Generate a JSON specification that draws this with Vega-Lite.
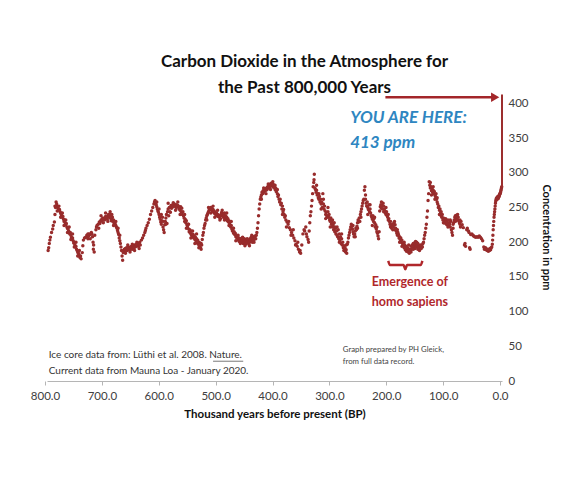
{
  "$schema": "https://vega.github.io/schema/vega-lite/v6.json",
  "width": 455,
  "height": 288,
  "autosize": {"type": "none"},
  "padding": {"left": 47, "top": 93, "right": 67, "bottom": 99},
  "background": "white",
  "config": {"view": {"stroke": null}, "font": "Lato"},
  "title": {
    "text": ["Carbon Dioxide in the Atmosphere for", "the Past 800,000 Years"],
    "font": "Lato", "fontSize": 17, "fontWeight": "bold", "color": "#111111",
    "anchor": "middle", "dx": 30, "offset": -5, "lineHeight": 26
  },
  "encoding": {
    "x": {"field": "kyr", "type": "quantitative",
      "scale": {"domain": [800, 0], "nice": false, "zero": false},
      "axis": {"values": [800, 700, 600, 500, 400, 300, 200, 100, 0], "format": ".1f", "labelFlush": false, "labelOverlap": false,
        "title": "Thousand years before present (BP)", "titleFont": "Lato", "titleFontSize": 11.5, "titleFontWeight": "bold", "titleColor": "#111111", "titlePadding": 7,
        "labelFont": "Lato", "labelFontSize": 11.5, "labelColor": "#404040", "labelPadding": 5,
        "domainColor": "#b5b5b5", "tickColor": "#b5b5b5", "tickSize": 4, "tickOffset": -2, "grid": false}},
    "y": {"field": "ppm", "type": "quantitative",
      "scale": {"domain": [0, 415], "nice": false},
      "axis": {"orient": "right", "values": [0, 50, 100, 150, 200, 250, 300, 350, 400], "labelOverlap": false, "labelFlush": false,
        "title": "Concentration in ppm", "titleFont": "Lato", "titleFontSize": 11, "titleFontWeight": "bold", "titleColor": "#111111", "titlePadding": 12,
        "labelFont": "Lato", "labelFontSize": 11.5, "labelColor": "#404040", "labelPadding": 6,
        "domain": false, "ticks": false, "grid": false}}
  },
  "datasets": {
    "co2": [
{"kyr":798,"ppm":188},{"kyr":797,"ppm":192},{"kyr":796,"ppm":198},{"kyr":795,"ppm":203},{"kyr":794,"ppm":207},{"kyr":792,"ppm":214},{"kyr":790,"ppm":219},{"kyr":789,"ppm":224},{"kyr":787,"ppm":229},{"kyr":786,"ppm":240},{"kyr":785,"ppm":250},{"kyr":784,"ppm":258},{"kyr":783,"ppm":255},{"kyr":782,"ppm":252},{"kyr":781,"ppm":250},{"kyr":780,"ppm":248},{"kyr":779,"ppm":246},{"kyr":778,"ppm":247},{"kyr":777,"ppm":244},{"kyr":776,"ppm":242},{"kyr":775,"ppm":240},{"kyr":774,"ppm":238},{"kyr":773,"ppm":236},{"kyr":772,"ppm":237},{"kyr":771,"ppm":233},{"kyr":770,"ppm":230},{"kyr":769,"ppm":232},{"kyr":768,"ppm":228},{"kyr":767,"ppm":225},{"kyr":766,"ppm":227},{"kyr":765,"ppm":222},{"kyr":764,"ppm":220},{"kyr":763,"ppm":219},{"kyr":762,"ppm":216},{"kyr":761,"ppm":214},{"kyr":760,"ppm":212},{"kyr":759,"ppm":214},{"kyr":758,"ppm":210},{"kyr":757,"ppm":207},{"kyr":756,"ppm":205},{"kyr":755,"ppm":206},{"kyr":754,"ppm":202},{"kyr":753,"ppm":199},{"kyr":752,"ppm":200},{"kyr":751,"ppm":196},{"kyr":750,"ppm":193},{"kyr":749,"ppm":194},{"kyr":748,"ppm":190},{"kyr":747,"ppm":188},{"kyr":746,"ppm":186},{"kyr":745,"ppm":184},{"kyr":744,"ppm":183},{"kyr":743,"ppm":180},{"kyr":742,"ppm":178},{"kyr":741,"ppm":180},{"kyr":740,"ppm":176},{"kyr":738,"ppm":185},{"kyr":737,"ppm":195},{"kyr":736,"ppm":203},{"kyr":734,"ppm":206},{"kyr":732,"ppm":207},{"kyr":730,"ppm":210},{"kyr":729,"ppm":207},{"kyr":728,"ppm":205},{"kyr":727,"ppm":209},{"kyr":726,"ppm":212},{"kyr":724,"ppm":211},{"kyr":722,"ppm":214},{"kyr":721,"ppm":212},{"kyr":720,"ppm":208},{"kyr":719,"ppm":200},{"kyr":718,"ppm":196},{"kyr":718.5,"ppm":190},{"kyr":717,"ppm":186},{"kyr":716,"ppm":210},{"kyr":714,"ppm":218},{"kyr":713,"ppm":222},{"kyr":712,"ppm":224},{"kyr":710,"ppm":226},{"kyr":708,"ppm":229},{"kyr":707,"ppm":227},{"kyr":706,"ppm":230},{"kyr":705,"ppm":232},{"kyr":704,"ppm":231},{"kyr":703,"ppm":233},{"kyr":702,"ppm":235},{"kyr":700,"ppm":234},{"kyr":699,"ppm":232},{"kyr":698,"ppm":235},{"kyr":697,"ppm":237},{"kyr":696,"ppm":234},{"kyr":695,"ppm":236},{"kyr":694,"ppm":233},{"kyr":693,"ppm":238},{"kyr":692,"ppm":240},{"kyr":691,"ppm":236},{"kyr":690,"ppm":238},{"kyr":689,"ppm":240},{"kyr":688,"ppm":234},{"kyr":687,"ppm":231},{"kyr":686,"ppm":233},{"kyr":685,"ppm":236},{"kyr":684,"ppm":230},{"kyr":683,"ppm":232},{"kyr":682,"ppm":227},{"kyr":681,"ppm":229},{"kyr":680,"ppm":226},{"kyr":679,"ppm":224},{"kyr":678,"ppm":222},{"kyr":677,"ppm":220},{"kyr":676,"ppm":217},{"kyr":675,"ppm":214},{"kyr":674,"ppm":211},{"kyr":673,"ppm":206},{"kyr":672,"ppm":202},{"kyr":671,"ppm":198},{"kyr":670,"ppm":193},{"kyr":669,"ppm":188},{"kyr":668,"ppm":180},{"kyr":667,"ppm":174},{"kyr":666,"ppm":185},{"kyr":665,"ppm":188},{"kyr":664,"ppm":190},{"kyr":663,"ppm":186},{"kyr":662,"ppm":191},{"kyr":661,"ppm":189},{"kyr":660,"ppm":192},{"kyr":659,"ppm":188},{"kyr":658,"ppm":190},{"kyr":657,"ppm":193},{"kyr":656,"ppm":191},{"kyr":655,"ppm":189},{"kyr":654,"ppm":192},{"kyr":653,"ppm":190},{"kyr":652,"ppm":194},{"kyr":651,"ppm":192},{"kyr":650,"ppm":190},{"kyr":649,"ppm":193},{"kyr":648,"ppm":195},{"kyr":647,"ppm":192},{"kyr":646,"ppm":196},{"kyr":645,"ppm":193},{"kyr":644,"ppm":195},{"kyr":643,"ppm":197},{"kyr":642,"ppm":194},{"kyr":641,"ppm":196},{"kyr":640,"ppm":198},{"kyr":639,"ppm":195},{"kyr":638,"ppm":197},{"kyr":637,"ppm":200},{"kyr":636,"ppm":196},{"kyr":634,"ppm":203},{"kyr":632,"ppm":206},{"kyr":630,"ppm":210},{"kyr":628,"ppm":214},{"kyr":627,"ppm":217},{"kyr":626,"ppm":220},{"kyr":624,"ppm":224},{"kyr":622,"ppm":228},{"kyr":620,"ppm":233},{"kyr":618,"ppm":240},{"kyr":616,"ppm":245},{"kyr":614,"ppm":250},{"kyr":612,"ppm":255},{"kyr":611,"ppm":258},{"kyr":610,"ppm":260},{"kyr":609,"ppm":257},{"kyr":608,"ppm":254},{"kyr":607,"ppm":251},{"kyr":606,"ppm":248},{"kyr":605,"ppm":245},{"kyr":604,"ppm":243},{"kyr":603,"ppm":240},{"kyr":602,"ppm":236},{"kyr":601,"ppm":233},{"kyr":600,"ppm":229},{"kyr":599,"ppm":226},{"kyr":598,"ppm":231},{"kyr":597,"ppm":236},{"kyr":596,"ppm":222},{"kyr":595,"ppm":218},{"kyr":594,"ppm":214},{"kyr":593,"ppm":225},{"kyr":592,"ppm":230},{"kyr":591,"ppm":235},{"kyr":590,"ppm":240},{"kyr":589,"ppm":227},{"kyr":588,"ppm":244},{"kyr":587,"ppm":248},{"kyr":586,"ppm":238},{"kyr":585,"ppm":250},{"kyr":584,"ppm":244},{"kyr":583,"ppm":250},{"kyr":582,"ppm":253},{"kyr":581,"ppm":249},{"kyr":580,"ppm":252},{"kyr":579,"ppm":254},{"kyr":578,"ppm":251},{"kyr":577,"ppm":253},{"kyr":576,"ppm":255},{"kyr":575,"ppm":252},{"kyr":574,"ppm":253},{"kyr":573,"ppm":250},{"kyr":572,"ppm":254},{"kyr":571,"ppm":251},{"kyr":570,"ppm":253},{"kyr":569,"ppm":252},{"kyr":568,"ppm":248},{"kyr":567,"ppm":250},{"kyr":566,"ppm":246},{"kyr":565,"ppm":251},{"kyr":564,"ppm":244},{"kyr":563,"ppm":249},{"kyr":562,"ppm":240},{"kyr":561,"ppm":244},{"kyr":560,"ppm":238},{"kyr":559,"ppm":235},{"kyr":558,"ppm":240},{"kyr":557,"ppm":233},{"kyr":556,"ppm":228},{"kyr":555,"ppm":231},{"kyr":554,"ppm":225},{"kyr":553,"ppm":222},{"kyr":552,"ppm":226},{"kyr":551,"ppm":219},{"kyr":550,"ppm":215},{"kyr":549,"ppm":218},{"kyr":548,"ppm":213},{"kyr":547,"ppm":216},{"kyr":546,"ppm":210},{"kyr":545,"ppm":212},{"kyr":544,"ppm":208},{"kyr":543,"ppm":211},{"kyr":542,"ppm":206},{"kyr":541,"ppm":209},{"kyr":540,"ppm":204},{"kyr":539,"ppm":207},{"kyr":538,"ppm":202},{"kyr":537,"ppm":205},{"kyr":536,"ppm":199},{"kyr":535,"ppm":203},{"kyr":534,"ppm":197},{"kyr":533,"ppm":200},{"kyr":532,"ppm":194},{"kyr":531,"ppm":199},{"kyr":530,"ppm":192},{"kyr":529,"ppm":190},{"kyr":528,"ppm":196},{"kyr":527,"ppm":204},{"kyr":526,"ppm":210},{"kyr":525,"ppm":214},{"kyr":524,"ppm":220},{"kyr":523,"ppm":224},{"kyr":522,"ppm":227},{"kyr":521,"ppm":232},{"kyr":520,"ppm":235},{"kyr":519,"ppm":238},{"kyr":518,"ppm":240},{"kyr":517,"ppm":242},{"kyr":516,"ppm":244},{"kyr":515,"ppm":246},{"kyr":514,"ppm":247},{"kyr":513,"ppm":248},{"kyr":512,"ppm":250},{"kyr":511,"ppm":247},{"kyr":510,"ppm":249},{"kyr":509,"ppm":245},{"kyr":508,"ppm":247},{"kyr":507,"ppm":243},{"kyr":506,"ppm":245},{"kyr":505,"ppm":241},{"kyr":504,"ppm":243},{"kyr":503,"ppm":240},{"kyr":502,"ppm":242},{"kyr":501,"ppm":238},{"kyr":500,"ppm":240},{"kyr":499,"ppm":237},{"kyr":498,"ppm":239},{"kyr":497,"ppm":236},{"kyr":496,"ppm":238},{"kyr":495,"ppm":234},{"kyr":494,"ppm":240},{"kyr":493,"ppm":243},{"kyr":492,"ppm":238},{"kyr":491,"ppm":241},{"kyr":490,"ppm":236},{"kyr":489,"ppm":239},{"kyr":488,"ppm":242},{"kyr":487,"ppm":235},{"kyr":486,"ppm":238},{"kyr":485,"ppm":233},{"kyr":484,"ppm":236},{"kyr":483,"ppm":231},{"kyr":482,"ppm":234},{"kyr":481,"ppm":229},{"kyr":480,"ppm":231},{"kyr":479,"ppm":226},{"kyr":478,"ppm":229},{"kyr":477,"ppm":222},{"kyr":476,"ppm":224},{"kyr":475,"ppm":219},{"kyr":474,"ppm":216},{"kyr":473,"ppm":220},{"kyr":472,"ppm":213},{"kyr":471,"ppm":215},{"kyr":470,"ppm":211},{"kyr":469,"ppm":213},{"kyr":468,"ppm":208},{"kyr":467,"ppm":210},{"kyr":466,"ppm":206},{"kyr":465,"ppm":208},{"kyr":464,"ppm":203},{"kyr":463,"ppm":206},{"kyr":462,"ppm":201},{"kyr":461,"ppm":204},{"kyr":460,"ppm":205},{"kyr":459,"ppm":200},{"kyr":458,"ppm":203},{"kyr":457,"ppm":206},{"kyr":456,"ppm":201},{"kyr":455,"ppm":198},{"kyr":454,"ppm":203},{"kyr":453,"ppm":205},{"kyr":452,"ppm":200},{"kyr":451,"ppm":197},{"kyr":450,"ppm":202},{"kyr":449,"ppm":204},{"kyr":448,"ppm":199},{"kyr":447,"ppm":201},{"kyr":446,"ppm":203},{"kyr":445,"ppm":197},{"kyr":444,"ppm":200},{"kyr":443,"ppm":205},{"kyr":442,"ppm":202},{"kyr":441,"ppm":207},{"kyr":440,"ppm":204},{"kyr":439,"ppm":200},{"kyr":438,"ppm":205},{"kyr":437,"ppm":208},{"kyr":436,"ppm":204},{"kyr":435,"ppm":207},{"kyr":434,"ppm":209},{"kyr":433,"ppm":205},{"kyr":432,"ppm":210},{"kyr":431,"ppm":214},{"kyr":430,"ppm":220},{"kyr":429,"ppm":228},{"kyr":428,"ppm":238},{"kyr":427,"ppm":248},{"kyr":426,"ppm":255},{"kyr":425,"ppm":262},{"kyr":424,"ppm":265},{"kyr":423,"ppm":268},{"kyr":422,"ppm":272},{"kyr":421,"ppm":270},{"kyr":420,"ppm":274},{"kyr":419,"ppm":272},{"kyr":418,"ppm":276},{"kyr":417,"ppm":274},{"kyr":416,"ppm":277},{"kyr":415,"ppm":275},{"kyr":414,"ppm":278},{"kyr":413,"ppm":276},{"kyr":412,"ppm":280},{"kyr":411,"ppm":278},{"kyr":410,"ppm":282},{"kyr":409,"ppm":279},{"kyr":408,"ppm":283},{"kyr":407,"ppm":281},{"kyr":406,"ppm":285},{"kyr":405,"ppm":282},{"kyr":404,"ppm":284},{"kyr":403,"ppm":280},{"kyr":402,"ppm":283},{"kyr":401,"ppm":279},{"kyr":400,"ppm":281},{"kyr":399,"ppm":276},{"kyr":398,"ppm":278},{"kyr":397,"ppm":273},{"kyr":396,"ppm":275},{"kyr":395,"ppm":270},{"kyr":394,"ppm":266},{"kyr":393,"ppm":268},{"kyr":392,"ppm":262},{"kyr":391,"ppm":258},{"kyr":390,"ppm":262},{"kyr":389,"ppm":254},{"kyr":388,"ppm":256},{"kyr":387,"ppm":248},{"kyr":386,"ppm":252},{"kyr":385,"ppm":244},{"kyr":384,"ppm":247},{"kyr":383,"ppm":240},{"kyr":382,"ppm":236},{"kyr":381,"ppm":238},{"kyr":380,"ppm":232},{"kyr":378,"ppm":229},{"kyr":376,"ppm":226},{"kyr":374,"ppm":221},{"kyr":372,"ppm":218},{"kyr":370,"ppm":214},{"kyr":368,"ppm":210},{"kyr":366,"ppm":206},{"kyr":364,"ppm":202},{"kyr":362,"ppm":197},{"kyr":360,"ppm":194},{"kyr":358,"ppm":190},{"kyr":356,"ppm":186},{"kyr":355,"ppm":188},{"kyr":352,"ppm":196},{"kyr":350,"ppm":212},{"kyr":348,"ppm":218},{"kyr":347,"ppm":216},{"kyr":345,"ppm":222},{"kyr":344,"ppm":212},{"kyr":343,"ppm":208},{"kyr":341,"ppm":204},{"kyr":340,"ppm":200},{"kyr":339,"ppm":216},{"kyr":338,"ppm":228},{"kyr":337,"ppm":238},{"kyr":336,"ppm":244},{"kyr":335,"ppm":252},{"kyr":334,"ppm":260},{"kyr":333,"ppm":270},{"kyr":332,"ppm":280},{"kyr":331,"ppm":286},{"kyr":330,"ppm":298},{"kyr":330.5,"ppm":290},{"kyr":329,"ppm":278},{"kyr":328,"ppm":276},{"kyr":327,"ppm":272},{"kyr":326,"ppm":275},{"kyr":325,"ppm":268},{"kyr":324,"ppm":270},{"kyr":323,"ppm":264},{"kyr":322,"ppm":262},{"kyr":321,"ppm":266},{"kyr":320,"ppm":258},{"kyr":319,"ppm":262},{"kyr":318,"ppm":255},{"kyr":317,"ppm":258},{"kyr":316,"ppm":250},{"kyr":315,"ppm":270},{"kyr":314,"ppm":255},{"kyr":313,"ppm":248},{"kyr":312,"ppm":252},{"kyr":311,"ppm":245},{"kyr":310,"ppm":240},{"kyr":309,"ppm":243},{"kyr":308,"ppm":236},{"kyr":307,"ppm":238},{"kyr":306,"ppm":244},{"kyr":305,"ppm":236},{"kyr":304,"ppm":240},{"kyr":303,"ppm":232},{"kyr":302,"ppm":230},{"kyr":301,"ppm":235},{"kyr":300,"ppm":226},{"kyr":299,"ppm":229},{"kyr":298,"ppm":222},{"kyr":297,"ppm":225},{"kyr":296,"ppm":218},{"kyr":295,"ppm":228},{"kyr":294,"ppm":215},{"kyr":293,"ppm":220},{"kyr":292,"ppm":212},{"kyr":291,"ppm":216},{"kyr":290,"ppm":222},{"kyr":289,"ppm":208},{"kyr":288,"ppm":218},{"kyr":287,"ppm":205},{"kyr":286,"ppm":212},{"kyr":285,"ppm":202},{"kyr":284,"ppm":208},{"kyr":283,"ppm":198},{"kyr":282,"ppm":205},{"kyr":281,"ppm":196},{"kyr":280,"ppm":200},{"kyr":279,"ppm":192},{"kyr":278,"ppm":195},{"kyr":277,"ppm":188},{"kyr":276,"ppm":192},{"kyr":275,"ppm":186},{"kyr":274,"ppm":189},{"kyr":273,"ppm":184},{"kyr":272,"ppm":197},{"kyr":271,"ppm":200},{"kyr":270,"ppm":206},{"kyr":269,"ppm":210},{"kyr":268,"ppm":214},{"kyr":267,"ppm":218},{"kyr":266,"ppm":222},{"kyr":265,"ppm":226},{"kyr":264,"ppm":223},{"kyr":263,"ppm":219},{"kyr":262,"ppm":215},{"kyr":261,"ppm":212},{"kyr":260,"ppm":208},{"kyr":259,"ppm":212},{"kyr":258,"ppm":216},{"kyr":257,"ppm":220},{"kyr":256,"ppm":218},{"kyr":255,"ppm":223},{"kyr":254,"ppm":228},{"kyr":253,"ppm":232},{"kyr":252,"ppm":229},{"kyr":251,"ppm":235},{"kyr":250,"ppm":230},{"kyr":249,"ppm":240},{"kyr":248,"ppm":244},{"kyr":247,"ppm":248},{"kyr":246,"ppm":252},{"kyr":245,"ppm":256},{"kyr":244,"ppm":260},{"kyr":243,"ppm":262},{"kyr":242,"ppm":275},{"kyr":241,"ppm":280},{"kyr":240,"ppm":268},{"kyr":239,"ppm":256},{"kyr":238,"ppm":252},{"kyr":237,"ppm":258},{"kyr":236,"ppm":250},{"kyr":235,"ppm":247},{"kyr":234,"ppm":254},{"kyr":233,"ppm":244},{"kyr":232,"ppm":248},{"kyr":231,"ppm":242},{"kyr":230,"ppm":238},{"kyr":229,"ppm":236},{"kyr":228,"ppm":233},{"kyr":227,"ppm":238},{"kyr":226,"ppm":230},{"kyr":225,"ppm":234},{"kyr":224,"ppm":228},{"kyr":223,"ppm":222},{"kyr":222,"ppm":225},{"kyr":221,"ppm":219},{"kyr":220,"ppm":215},{"kyr":219,"ppm":213},{"kyr":218,"ppm":209},{"kyr":217,"ppm":205},{"kyr":216,"ppm":215},{"kyr":215,"ppm":245},{"kyr":214,"ppm":251},{"kyr":213,"ppm":254},{"kyr":212,"ppm":249},{"kyr":211,"ppm":253},{"kyr":210,"ppm":248},{"kyr":209,"ppm":256},{"kyr":208,"ppm":252},{"kyr":207,"ppm":248},{"kyr":206,"ppm":245},{"kyr":205,"ppm":242},{"kyr":204,"ppm":240},{"kyr":203,"ppm":244},{"kyr":202,"ppm":238},{"kyr":201,"ppm":236},{"kyr":200,"ppm":240},{"kyr":199,"ppm":234},{"kyr":198,"ppm":230},{"kyr":197,"ppm":226},{"kyr":196,"ppm":222},{"kyr":195,"ppm":225},{"kyr":194,"ppm":220},{"kyr":193,"ppm":224},{"kyr":192,"ppm":218},{"kyr":191,"ppm":222},{"kyr":190,"ppm":228},{"kyr":189,"ppm":230},{"kyr":188,"ppm":225},{"kyr":187,"ppm":220},{"kyr":186,"ppm":216},{"kyr":185,"ppm":213},{"kyr":184,"ppm":210},{"kyr":183,"ppm":214},{"kyr":182,"ppm":211},{"kyr":181,"ppm":206},{"kyr":180,"ppm":208},{"kyr":179,"ppm":204},{"kyr":178,"ppm":206},{"kyr":177,"ppm":200},{"kyr":176,"ppm":203},{"kyr":175,"ppm":198},{"kyr":174,"ppm":195},{"kyr":173,"ppm":199},{"kyr":172,"ppm":192},{"kyr":171,"ppm":196},{"kyr":170,"ppm":189},{"kyr":169,"ppm":193},{"kyr":168,"ppm":187},{"kyr":167,"ppm":190},{"kyr":166,"ppm":192},{"kyr":165,"ppm":186},{"kyr":164,"ppm":189},{"kyr":163,"ppm":184},{"kyr":162,"ppm":190},{"kyr":161,"ppm":188},{"kyr":160,"ppm":194},{"kyr":159,"ppm":190},{"kyr":158,"ppm":196},{"kyr":157,"ppm":192},{"kyr":156,"ppm":198},{"kyr":155,"ppm":194},{"kyr":154,"ppm":199},{"kyr":153,"ppm":191},{"kyr":152,"ppm":196},{"kyr":151,"ppm":193},{"kyr":150,"ppm":200},{"kyr":149,"ppm":195},{"kyr":148,"ppm":190},{"kyr":147,"ppm":192},{"kyr":146,"ppm":194},{"kyr":145,"ppm":188},{"kyr":144,"ppm":192},{"kyr":143,"ppm":195},{"kyr":142,"ppm":191},{"kyr":141,"ppm":196},{"kyr":140,"ppm":193},{"kyr":139,"ppm":198},{"kyr":138,"ppm":200},{"kyr":137,"ppm":205},{"kyr":136,"ppm":210},{"kyr":135,"ppm":214},{"kyr":134,"ppm":220},{"kyr":133,"ppm":226},{"kyr":132,"ppm":236},{"kyr":131,"ppm":245},{"kyr":130,"ppm":260},{"kyr":129,"ppm":270},{"kyr":128,"ppm":287},{"kyr":127,"ppm":282},{"kyr":126,"ppm":278},{"kyr":125,"ppm":280},{"kyr":124,"ppm":274},{"kyr":123,"ppm":277},{"kyr":122,"ppm":272},{"kyr":121,"ppm":275},{"kyr":120,"ppm":270},{"kyr":119,"ppm":273},{"kyr":118,"ppm":268},{"kyr":117,"ppm":266},{"kyr":116,"ppm":270},{"kyr":115,"ppm":262},{"kyr":114,"ppm":258},{"kyr":113,"ppm":255},{"kyr":112,"ppm":250},{"kyr":111,"ppm":252},{"kyr":110,"ppm":246},{"kyr":109,"ppm":248},{"kyr":108,"ppm":242},{"kyr":107,"ppm":238},{"kyr":106,"ppm":236},{"kyr":105,"ppm":240},{"kyr":104,"ppm":232},{"kyr":103,"ppm":235},{"kyr":102,"ppm":228},{"kyr":101,"ppm":231},{"kyr":100,"ppm":233},{"kyr":99,"ppm":227},{"kyr":98,"ppm":230},{"kyr":97,"ppm":225},{"kyr":96,"ppm":228},{"kyr":95,"ppm":232},{"kyr":94,"ppm":224},{"kyr":93,"ppm":228},{"kyr":92,"ppm":226},{"kyr":91,"ppm":222},{"kyr":90,"ppm":230},{"kyr":89,"ppm":218},{"kyr":88,"ppm":214},{"kyr":87,"ppm":210},{"kyr":86,"ppm":226},{"kyr":85,"ppm":228},{"kyr":84,"ppm":232},{"kyr":83,"ppm":236},{"kyr":82,"ppm":238},{"kyr":81,"ppm":234},{"kyr":80,"ppm":239},{"kyr":79,"ppm":236},{"kyr":78,"ppm":232},{"kyr":77,"ppm":236},{"kyr":76,"ppm":231},{"kyr":75,"ppm":228},{"kyr":74,"ppm":226},{"kyr":73,"ppm":222},{"kyr":72,"ppm":230},{"kyr":70,"ppm":225},{"kyr":68,"ppm":221},{"kyr":66,"ppm":196},{"kyr":65,"ppm":198},{"kyr":64,"ppm":194},{"kyr":62,"ppm":218},{"kyr":61,"ppm":220},{"kyr":59,"ppm":216},{"kyr":58,"ppm":214},{"kyr":57,"ppm":192},{"kyr":56,"ppm":190},{"kyr":55,"ppm":211},{"kyr":53,"ppm":212},{"kyr":51,"ppm":210},{"kyr":50,"ppm":209},{"kyr":48,"ppm":208},{"kyr":46,"ppm":207},{"kyr":44,"ppm":208},{"kyr":42,"ppm":207},{"kyr":40,"ppm":209},{"kyr":38,"ppm":207},{"kyr":36,"ppm":205},{"kyr":34,"ppm":202},{"kyr":32,"ppm":193},{"kyr":31,"ppm":190},{"kyr":30,"ppm":191},{"kyr":29,"ppm":192},{"kyr":28,"ppm":189},{"kyr":27,"ppm":190},{"kyr":26,"ppm":188},{"kyr":25,"ppm":190},{"kyr":24,"ppm":187},{"kyr":23,"ppm":189},{"kyr":22,"ppm":188},{"kyr":21,"ppm":191},{"kyr":20,"ppm":189},{"kyr":19,"ppm":192},{"kyr":18,"ppm":193},{"kyr":17,"ppm":197},{"kyr":16.5,"ppm":203},{"kyr":16,"ppm":210},{"kyr":15.5,"ppm":218},{"kyr":15,"ppm":224},{"kyr":14.5,"ppm":230},{"kyr":14,"ppm":236},{"kyr":13.5,"ppm":240},{"kyr":13,"ppm":244},{"kyr":12.5,"ppm":248},{"kyr":12,"ppm":252},{"kyr":11.5,"ppm":256},{"kyr":11,"ppm":259},{"kyr":10.5,"ppm":261},{"kyr":10,"ppm":263},{"kyr":9.5,"ppm":262},{"kyr":9,"ppm":264},{"kyr":8.5,"ppm":262},{"kyr":8,"ppm":265},{"kyr":7.5,"ppm":264},{"kyr":7,"ppm":266},{"kyr":6.5,"ppm":263},{"kyr":6,"ppm":265},{"kyr":5.5,"ppm":267},{"kyr":5,"ppm":266},{"kyr":4.5,"ppm":268},{"kyr":4,"ppm":269},{"kyr":3.5,"ppm":270},{"kyr":3,"ppm":271},{"kyr":2.5,"ppm":272},{"kyr":2,"ppm":274},{"kyr":1.5,"ppm":276},{"kyr":1,"ppm":278},{"kyr":0.5,"ppm":280},
{"kyr":782,"ppm":245},{"kyr":779,"ppm":252},{"kyr":776,"ppm":236},{"kyr":773,"ppm":242},{"kyr":770,"ppm":224},{"kyr":767,"ppm":232},{"kyr":764,"ppm":214},{"kyr":761,"ppm":222},{"kyr":758,"ppm":204},{"kyr":755,"ppm":212},{"kyr":752,"ppm":193},{"kyr":749,"ppm":200},{"kyr":746,"ppm":180},{"kyr":743,"ppm":188},{"kyr":786,"ppm":252},
{"kyr":728,"ppm":212},{"kyr":724,"ppm":205},{"kyr":709,"ppm":220},{"kyr":705,"ppm":238},{"kyr":701,"ppm":228},{"kyr":697,"ppm":242},{"kyr":693,"ppm":230},{"kyr":689,"ppm":244},{"kyr":686,"ppm":240},{"kyr":683,"ppm":224},{"kyr":679,"ppm":230},{"kyr":675,"ppm":220},{"kyr":672,"ppm":210},
{"kyr":662,"ppm":184},{"kyr":658,"ppm":196},{"kyr":654,"ppm":186},{"kyr":650,"ppm":197},{"kyr":646,"ppm":188},{"kyr":642,"ppm":200},{"kyr":638,"ppm":191},
{"kyr":607,"ppm":258},{"kyr":603,"ppm":248},{"kyr":599,"ppm":240},{"kyr":596,"ppm":230},{"kyr":591,"ppm":226},{"kyr":587,"ppm":256},{"kyr":583,"ppm":243},{"kyr":578,"ppm":257},{"kyr":574,"ppm":246},{"kyr":570,"ppm":258},{"kyr":566,"ppm":240},
{"kyr":558,"ppm":230},{"kyr":555,"ppm":220},{"kyr":551,"ppm":226},{"kyr":547,"ppm":206},{"kyr":544,"ppm":216},{"kyr":540,"ppm":198},{"kyr":537,"ppm":212},{"kyr":533,"ppm":192},{"kyr":529,"ppm":198},
{"kyr":519,"ppm":232},{"kyr":516,"ppm":250},{"kyr":512,"ppm":242},{"kyr":508,"ppm":252},{"kyr":505,"ppm":236},{"kyr":500,"ppm":246},{"kyr":496,"ppm":232},{"kyr":492,"ppm":246},{"kyr":488,"ppm":232},{"kyr":484,"ppm":242},{"kyr":480,"ppm":224},{"kyr":476,"ppm":230},{"kyr":472,"ppm":220},
{"kyr":468,"ppm":202},{"kyr":464,"ppm":210},{"kyr":460,"ppm":198},{"kyr":456,"ppm":207},{"kyr":452,"ppm":195},{"kyr":448,"ppm":205},{"kyr":444,"ppm":195},{"kyr":440,"ppm":210},{"kyr":436,"ppm":200},
{"kyr":423,"ppm":262},{"kyr":419,"ppm":278},{"kyr":415,"ppm":270},{"kyr":411,"ppm":284},{"kyr":407,"ppm":276},{"kyr":403,"ppm":287},{"kyr":399,"ppm":282},{"kyr":395,"ppm":276},
{"kyr":386,"ppm":240},{"kyr":379,"ppm":222},{"kyr":375,"ppm":230},{"kyr":371,"ppm":210},{"kyr":367,"ppm":218},{"kyr":363,"ppm":196},{"kyr":359,"ppm":200},{"kyr":354,"ppm":184},
{"kyr":326,"ppm":282},{"kyr":322,"ppm":270},{"kyr":318,"ppm":248},{"kyr":314,"ppm":262},{"kyr":310,"ppm":234},{"kyr":306,"ppm":250},{"kyr":302,"ppm":222},{"kyr":298,"ppm":232},
{"kyr":294,"ppm":222},{"kyr":290,"ppm":210},{"kyr":286,"ppm":200},{"kyr":282,"ppm":212},{"kyr":278,"ppm":188},{"kyr":274,"ppm":196},
{"kyr":262,"ppm":224},{"kyr":258,"ppm":208},{"kyr":254,"ppm":220},{"kyr":248,"ppm":236},{"kyr":240,"ppm":262},{"kyr":236,"ppm":240},{"kyr":232,"ppm":254},{"kyr":228,"ppm":224},{"kyr":224,"ppm":236},{"kyr":220,"ppm":222},
{"kyr":212,"ppm":258},{"kyr":208,"ppm":244},{"kyr":204,"ppm":250},{"kyr":200,"ppm":232},{"kyr":196,"ppm":230},{"kyr":192,"ppm":226},{"kyr":188,"ppm":218},{"kyr":184,"ppm":218},{"kyr":180,"ppm":200},{"kyr":176,"ppm":194},{"kyr":172,"ppm":200},{"kyr":168,"ppm":194},{"kyr":164,"ppm":196},{"kyr":160,"ppm":186},{"kyr":156,"ppm":190},{"kyr":152,"ppm":201},{"kyr":148,"ppm":198},{"kyr":144,"ppm":196},
{"kyr":126,"ppm":286},{"kyr":124,"ppm":268},{"kyr":121,"ppm":280},{"kyr":118,"ppm":262},{"kyr":114,"ppm":264},{"kyr":110,"ppm":240},{"kyr":107,"ppm":244},{"kyr":103,"ppm":228},{"kyr":99,"ppm":234},{"kyr":95,"ppm":222},{"kyr":91,"ppm":232},{"kyr":86,"ppm":220},{"kyr":82,"ppm":230},{"kyr":78,"ppm":240},{"kyr":74,"ppm":232}
    ]
  },
  "layer": [
    {
      "data": {"name": "co2"},
      "mark": {"type": "circle", "size": 12, "color": "#982c2c", "opacity": 1}
    },
    {
      "data": {"values": [{"kyr": 0, "ppm": 280, "ppm2": 413}]},
      "mark": {"type": "rule", "color": "#9c2e2e", "strokeWidth": 2},
      "encoding": {"y2": {"field": "ppm2"}}
    },
    {
      "data": {"values": [{"kyr": 205, "kyr2": 12, "ppm": 409}]},
      "mark": {"type": "rule", "color": "#a3262a", "strokeWidth": 2.5},
      "encoding": {"x2": {"field": "kyr2"}}
    },
    {
      "data": {"values": [{"kyr": 12, "ppm": 409}]},
      "mark": {"type": "point", "shape": "triangle-right", "filled": true, "size": 90, "color": "#a3262a", "opacity": 1}
    },
    {
      "data": {"values": [
        {"kyr": 200, "ppm": 173, "o": 1}, {"kyr": 197, "ppm": 167, "o": 2}, {"kyr": 173, "ppm": 167, "o": 3},
        {"kyr": 170, "ppm": 161, "o": 4}, {"kyr": 167, "ppm": 167, "o": 5}, {"kyr": 143, "ppm": 167, "o": 6}, {"kyr": 140, "ppm": 173, "o": 7}]},
      "mark": {"type": "line", "color": "#b0272b", "strokeWidth": 2.5, "interpolate": "monotone"},
      "encoding": {"order": {"field": "o"}}
    },
    {
      "data": {"values": [{"kyr": 508, "kyr2": 455, "ppm": 28.5}]},
      "mark": {"type": "rule", "color": "#555555", "strokeWidth": 0.8},
      "encoding": {"x2": {"field": "kyr2"}}
    },
    {
      "data": {"values": [{"kyr": 267, "ppm": 379, "t": "YOU ARE HERE:"}, {"kyr": 267, "ppm": 343, "t": "413 ppm"}]},
      "mark": {"type": "text", "align": "left", "baseline": "middle", "font": "Lato", "fontSize": 17, "fontWeight": "bold", "fontStyle": "italic", "color": "#2e86c1"},
      "encoding": {"text": {"field": "t"}}
    },
    {
      "data": {"values": [{"kyr": 162, "ppm": 143, "t": "Emergence of"}, {"kyr": 162, "ppm": 114, "t": "homo sapiens"}]},
      "mark": {"type": "text", "align": "center", "baseline": "middle", "font": "Lato", "fontSize": 12.5, "fontWeight": "bold", "color": "#b0272b"},
      "encoding": {"text": {"field": "t"}}
    },
    {
      "data": {"values": [{"kyr": 797, "ppm": 37, "t": "Ice core data from: Lüthi et al. 2008. Nature."}, {"kyr": 797, "ppm": 14, "t": "Current data from Mauna Loa - January 2020."}]},
      "mark": {"type": "text", "align": "left", "baseline": "middle", "font": "Lato", "fontSize": 10, "color": "#333333"},
      "encoding": {"text": {"field": "t"}}
    },
    {
      "data": {"values": [{"kyr": 280, "ppm": 45, "t": "Graph prepared by PH Gleick,"}, {"kyr": 280, "ppm": 27, "t": "from full data record."}]},
      "mark": {"type": "text", "align": "left", "baseline": "middle", "font": "Lato", "fontSize": 7.8, "color": "#444444"},
      "encoding": {"text": {"field": "t"}}
    }
  ]
}
